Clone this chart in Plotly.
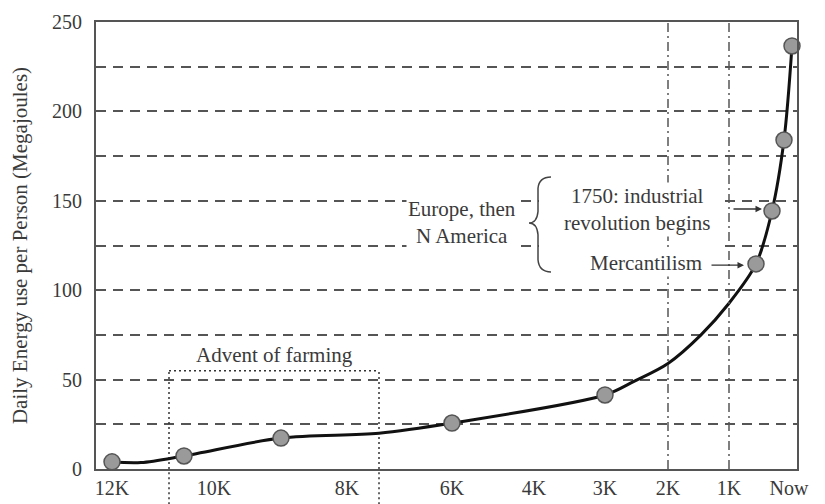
import plotly.graph_objects as go

# ---- data (positions on the chart's non-linear time scale) ----
TICK_LABELS = ["12K", "10K", "8K", "6K", "4K", "3K", "2K", "1K", "Now"]
TICK_POS = [16, 118, 251, 356, 438, 509, 572, 633, 693]
X_MAX = 701

POINT_POS = [16, 88, 185, 356, 509, 660, 676, 688, 696]
POINT_ENERGY = [4, 7.3, 17.3, 25.7, 41.4, 114.7, 144.3, 184, 236.6]

CURVE_POS = [16, 45, 88, 185, 283, 356, 509, 538, 572, 605, 632, 660, 676, 688, 696]
CURVE_ENERGY = [4, 3.6, 7.3, 17.3, 20, 25.7, 41.4, 49, 59, 75, 92, 114.7, 144.3, 184, 236.6]

Y_TICKS = [0, 25, 50, 75, 100, 125, 150, 175, 200, 225, 250]
Y_TICK_TEXT = ["0", "", "50", "", "100", "", "150", "", "200", "", "250"]
Y_MAX = 250

FARMING_START, FARMING_END, FARMING_TOP = 73, 283, 55
ERA_LINES = [572, 633]  # 2K and 1K

FONT = "Liberation Serif"
TXT = "#3a3a3a"

fig = go.Figure()

fig.add_trace(go.Scatter(
    x=CURVE_POS, y=CURVE_ENERGY, mode="lines",
    line=dict(color="#111111", width=3, shape="spline", smoothing=0.9),
    hoverinfo="skip", showlegend=False))

fig.add_trace(go.Scatter(
    x=POINT_POS, y=POINT_ENERGY, mode="markers",
    marker=dict(size=16, color="#9a9a9a", line=dict(color="#555555", width=1.5)),
    showlegend=False, cliponaxis=False))

shapes = []
# white mask behind the annotation block
shapes.append(dict(type="rect", xref="x", yref="y", x0=443, x1=625, y0=110, y1=165,
                   fillcolor="white", line=dict(width=0), layer="above"))
# era vertical dash-dot lines
for xv in ERA_LINES:
    shapes.append(dict(type="line", xref="x", yref="paper", x0=xv, x1=xv, y0=0, y1=1,
                       line=dict(color="#555555", width=1.5, dash="9px,4px,2px,4px"),
                       layer="above"))
# farming dotted box
for xv in (FARMING_START, FARMING_END):
    shapes.append(dict(type="line", xref="x", yref="y", x0=xv, x1=xv, y0=0, y1=FARMING_TOP,
                       line=dict(color="#333333", width=1.5, dash="2px,3px"), layer="between"))
    shapes.append(dict(type="line", xref="x", yref="paper", x0=xv, x1=xv, y0=-0.09, y1=0,
                       line=dict(color="#333333", width=1.5, dash="2px,3px"), layer="between"))
shapes.append(dict(type="line", xref="x", yref="y", x0=FARMING_START, x1=FARMING_END,
                   y0=FARMING_TOP, y1=FARMING_TOP,
                   line=dict(color="#333333", width=1.5, dash="2px,3px"), layer="between"))
# curly brace
shapes.append(dict(type="path", xref="x", yref="y",
                   path="M 455,163.3 Q 443,163.3 442,157 L 442,144 Q 441,137.6 433,137.6 "
                        "Q 441,137.6 442,131 L 442,117 Q 443,110.2 455,110.2",
                   line=dict(color="#444444", width=1.5), layer="above"))

annotations = [
    dict(x=178, y=64, text="Advent of farming", showarrow=False,
         font=dict(family=FONT, size=21, color=TXT)),
    dict(x=366, y=138, text="Europe, then<br>N America", showarrow=False,
         font=dict(family=FONT, size=21, color=TXT), bgcolor="white", align="center"),
    dict(x=541, y=145, text="1750: industrial<br>revolution begins", showarrow=False,
         font=dict(family=FONT, size=21, color=TXT), bgcolor="white", align="center"),
    dict(x=550, y=115, text="Mercantilism", showarrow=False,
         font=dict(family=FONT, size=21, color=TXT), bgcolor="white"),
    dict(x=648, y=114, ax=614, ay=114, axref="x", ayref="y", text="", showarrow=True,
         arrowhead=2, arrowsize=1, arrowwidth=1.3, arrowcolor="#333333"),
    dict(x=666, y=145.4, ax=636, ay=145.4, axref="x", ayref="y", text="", showarrow=True,
         arrowhead=2, arrowsize=1, arrowwidth=1.3, arrowcolor="#333333"),
]

# the page body adds an 8px offset, so the figure is sized to the remaining view
fig.update_layout(
    width=817, height=496,
    margin=dict(l=88, r=28, t=14, b=35),
    paper_bgcolor="white", plot_bgcolor="white",
    font=dict(family=FONT, size=20, color=TXT),
    shapes=shapes, annotations=annotations,
    xaxis=dict(range=[0, X_MAX], tickmode="array", tickvals=TICK_POS, ticktext=TICK_LABELS,
               showgrid=False, zeroline=False, showline=True, linecolor="#555555",
               linewidth=2, mirror=True, ticks="", automargin=False,
               tickfont=dict(size=20, color=TXT)),
    yaxis=dict(range=[0, Y_MAX], tickmode="array", tickvals=Y_TICKS, ticktext=Y_TICK_TEXT,
               showgrid=True, gridcolor="#555555", gridwidth=1.8, griddash="10px,7px",
               zeroline=False, showline=True, linecolor="#555555", linewidth=2, mirror=True,
               ticks="", ticklabelstandoff=8, automargin=False,
               tickfont=dict(size=20, color=TXT),
               title=dict(text="Daily Energy use per Person (Megajoules)",
                          font=dict(size=21, color=TXT), standoff=20)),
)

fig.write_html("out.html")
